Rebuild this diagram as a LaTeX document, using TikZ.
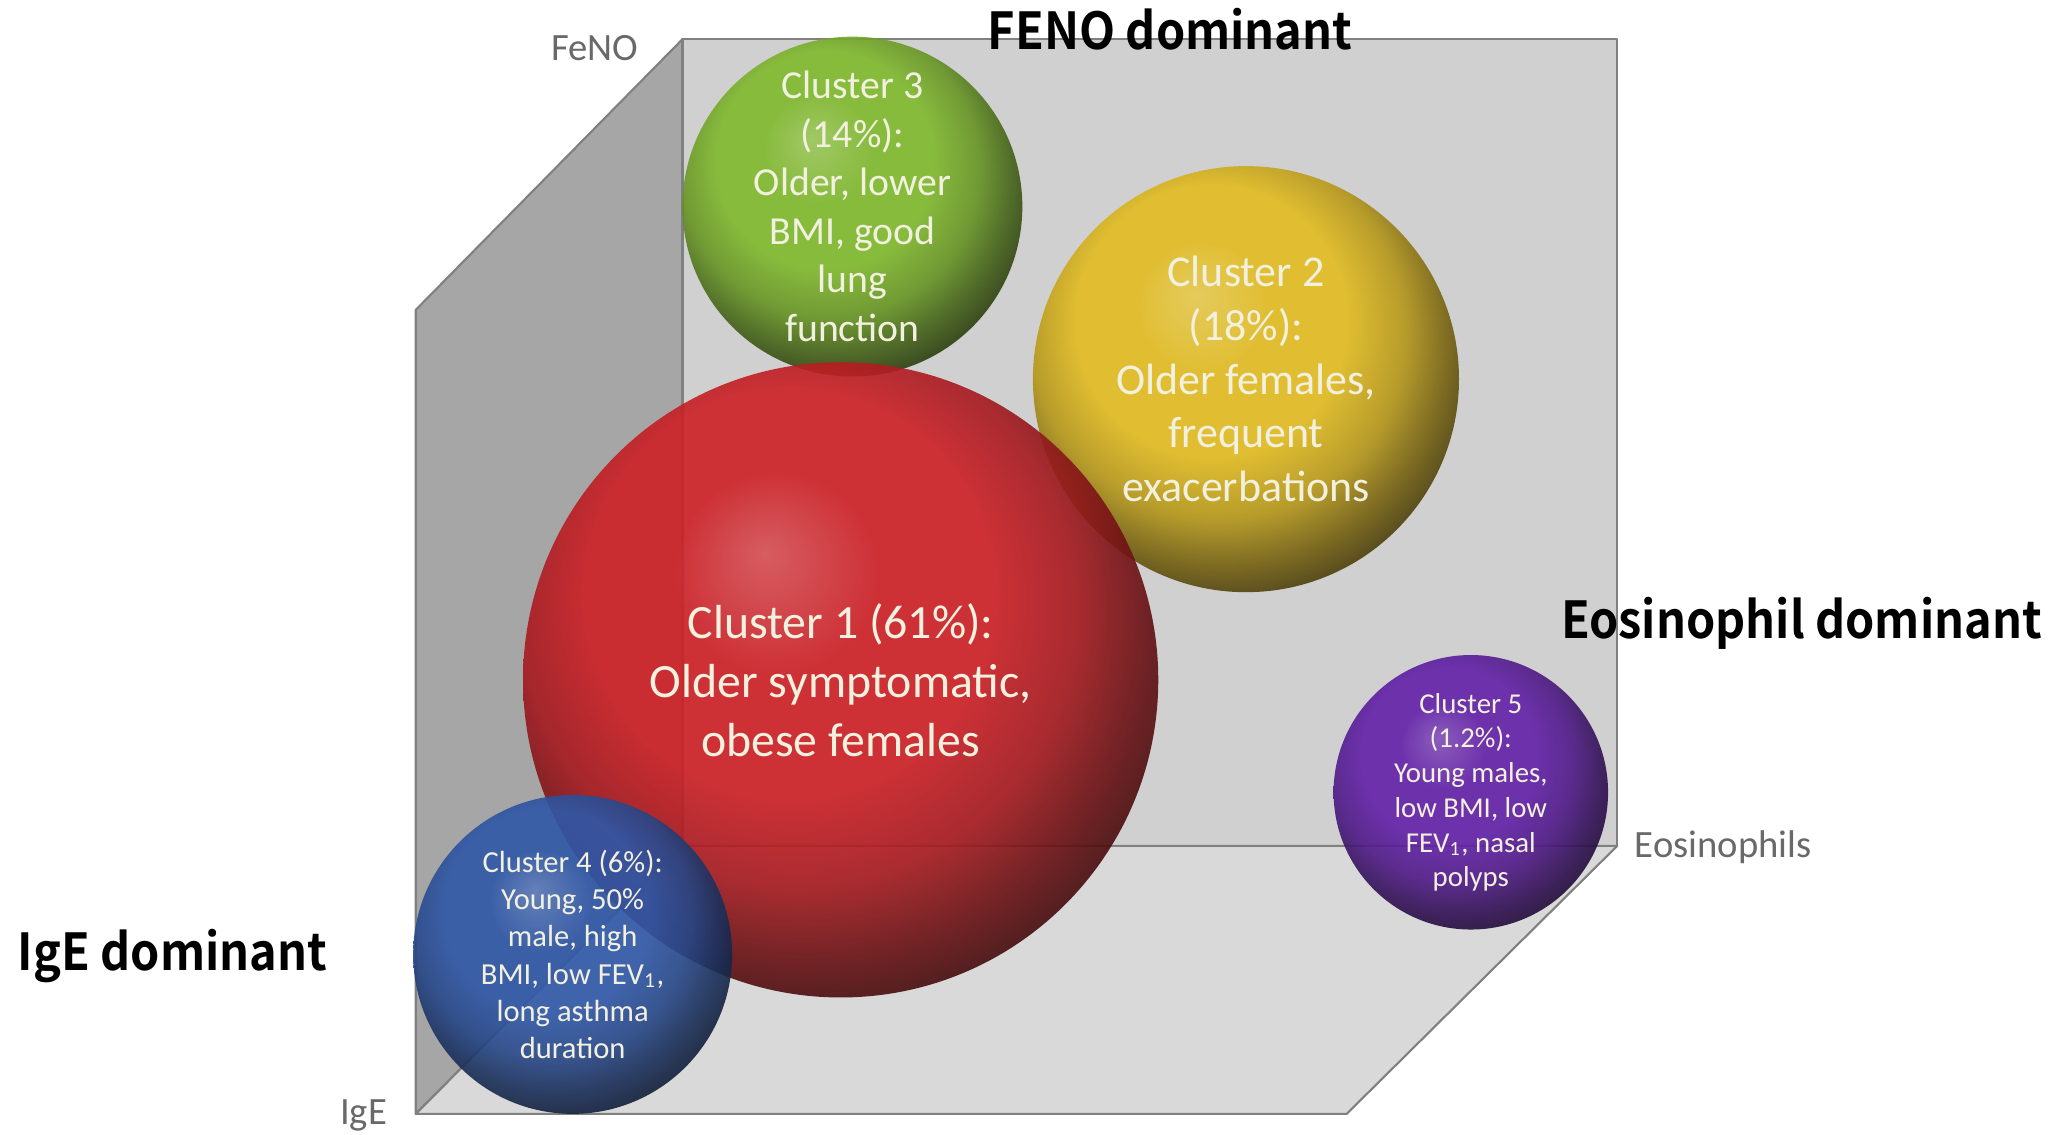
\documentclass[tikz,border=0pt]{standalone}
\usepackage{fontspec}
\setmainfont{Carlito}
\newfontfamily\headfont{Noto Sans CJK KR}[BoldFont={* Bold}, FakeStretch=0.92]
\usepackage{xcolor}
\usepackage{tikz}
\usetikzlibrary{positioning,calc}
\definecolor{leftgray}{RGB}{166,166,166}
\definecolor{backgray}{RGB}{208,208,208}
\definecolor{floorgray}{RGB}{217,217,217}
\definecolor{edgegray}{RGB}{128,128,128}
\definecolor{axisgray}{RGB}{105,105,105}
\definecolor{balltext}{RGB}{242,240,222}
\definecolor{c1red}{RGB}{205,32,38}
\definecolor{c2yellow}{RGB}{226,188,32}
\definecolor{c3green}{RGB}{128,185,45}
\definecolor{c4blue}{RGB}{48,88,168}
\definecolor{c5purple}{RGB}{98,32,168}
\colorlet{sphc}{c1red}
\pgfdeclareradialshading[sphc]{sphere}{\pgfpoint{-6bp}{10bp}}{%
  color(0bp)=(sphc!78!white);
  color(8bp)=(sphc);
  color(16bp)=(sphc);
  color(22bp)=(sphc!80!black);
  color(26bp)=(sphc!55!black);
  color(30bp)=(sphc!32!black);
  color(50bp)=(sphc!25!black)}

\begin{document}
\begin{tikzpicture}[
    x=0.013074cm, y=-0.013074cm,
    wall/.style    = {draw=edgegray, line width=0.6pt, fill=#1, line join=round},
    ball/.style    = {circle, minimum size=#1*0.26148mm, inner sep=0pt,
                      shading=sphere, fill opacity=0.9, text opacity=1,
                      align=center, text=balltext},
    axislabel/.style = {font=\fontsize{11}{13}\selectfont, text=axisgray, inner sep=0pt},
    headlabel/.style = {font=\headfont\bfseries\fontsize{14.5}{17}\selectfont, inner sep=0pt}
  ]
    \useasboundingbox (0,0) rectangle (1568,868);

    % open box
    \coordinate (tl) at (522,30);
    \coordinate (tr) at (1237,30);
    \coordinate (br) at (1237,647);
    \coordinate (bl) at (522,647);
    \coordinate (fu) at (318,237);
    \coordinate (fl) at (318,852);
    \coordinate (fr) at (1030,852);
    \filldraw[wall=leftgray]  (fu) -- (tl) -- (bl) -- (fl) -- cycle;
    \filldraw[wall=backgray]  (tl) -- (tr) -- (br) -- (bl) -- cycle;
    \filldraw[wall=floorgray] (bl) -- (br) -- (fr) -- (fl) -- cycle;

    \node[axislabel] (feno) at (455,37)  {FeNO};
    \node[axislabel] (ige)  at (278,853) {IgE};
    \node[axislabel, anchor=west] (eos) at (1250,648) {Eosinophils};

    % clusters
    \colorlet{sphc}{c3green}
    \node[ball=130, font=\fontsize{11.3}{13.8}\selectfont] (c3) at (652,158)
      {Cluster 3\\(14\%):\\Older, lower\\BMI, good\\lung\\function};
    \colorlet{sphc}{c2yellow}
    \node[ball=163, font=\fontsize{12.5}{15.3}\selectfont] (c2) at (953,290)
      {Cluster 2\\(18\%):\\Older females,\\frequent\\exacerbations};
    \colorlet{sphc}{c1red}
    \node[ball=243, font=\fontsize{13.6}{16.8}\selectfont] (c1) at (643,520)
      {Cluster 1 (61\%):\\Older symptomatic,\\obese females};
    \colorlet{sphc}{c5purple}
    \node[ball=105, font=\fontsize{8.2}{9.9}\selectfont] (c5) at (1125,606)
      {Cluster 5\\(1.2\%):\\Young males,\\low BMI, low\\FEV\textsubscript{1}, nasal\\polyps};
    \colorlet{sphc}{c4blue}
    \node[ball=122, font=\fontsize{8.7}{10.6}\selectfont] (c4) at (438,730)
      {Cluster 4 (6\%):\\Young, 50\%\\male, high\\BMI, low FEV\textsubscript{1},\\long asthma\\duration};

    \node[headlabel] (fenodom) at (895,22)  {FENO dominant};
    \node[headlabel] (eosdom)  at (1378,477) {Eosinophil dominant};
    \node[headlabel] (igedom)  at (132,731) {IgE dominant};
  \end{tikzpicture}
\end{document}
